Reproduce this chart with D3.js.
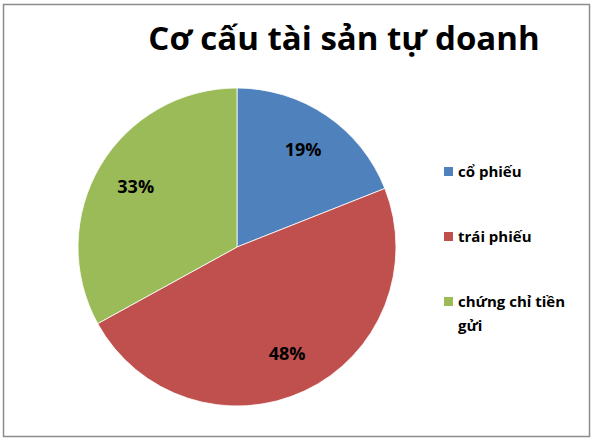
<!DOCTYPE html>
<html>
<head>
<meta charset="utf-8">
<script src="https://cdn.jsdelivr.net/npm/d3@7"></script>
<style>
  body { margin: 0; background: #fff; }
  text { font-family: "Open Sans", "Noto Sans", sans-serif; }
</style>
</head>
<body>
<svg id="chart" width="595" height="440"></svg>
<script>
// data
var categories = ["cổ phiếu", "trái phiếu", "chứng chỉ tiền gửi"];
var shares = [19, 48, 33];
var colours = ["#4F81BD", "#C0504D", "#9BBB59"];

let svg = d3.select("#chart");

// chart frame
svg.append("rect")
  .attr("x", 3.5).attr("y", 4.5)
  .attr("width", 586).attr("height", 432)
  .attr("fill", "#fff")
  .attr("stroke", "#8c8c8c")
  .attr("stroke-width", 1.5);

// title
svg.append("text")
  .attr("x", 344).attr("y", 50)
  .attr("text-anchor", "middle")
  .attr("font-size", 33)
  .attr("font-weight", "bold")
  .text("Cơ cấu tài sản tự doanh");

var cx = 237, cy = 247, r = 159;

var pieGen = d3.pie().sort(null).value((d) => d);
var arcs = pieGen(shares);

var arcGen = d3.arc().innerRadius(0).outerRadius(r);
// excel "best fit" puts labels a bit further out than the middle
var labelArc = d3.arc().innerRadius(r * 0.74).outerRadius(r * 0.74);

var colorScale = d3.scaleOrdinal().domain(categories).range(colours);

let g = svg.append("g").attr("transform", `translate(${cx},${cy})`);

g.selectAll("path")
  .data(arcs)
  .join("path")
  .attr("d", arcGen)
  .attr("fill", (d, i) => colorScale(categories[i]))
  .attr("stroke", "#fff")
  .attr("stroke-width", 0.8);

g.selectAll(".lbl")
  .data(arcs)
  .join("text")
  .attr("class", "lbl")
  .attr("transform", (d) => `translate(${labelArc.centroid(d)})`)
  .attr("text-anchor", "middle")
  .attr("dy", "0.35em")
  .attr("font-size", 18)
  .attr("font-weight", "bold")
  .text((d) => d.data + "%");

// legend
var legendRows = [["cổ phiếu"], ["trái phiếu"], ["chứng chỉ tiền", "gửi"]];
var legendY = d3.scalePoint().domain(categories).range([172, 302]);

let lg = svg.append("g");
categories.forEach((c, i) => {
  let y = legendY(c);
  lg.append("rect")
    .attr("x", 444).attr("y", y - 5)
    .attr("width", 9).attr("height", 9)
    .attr("fill", colorScale(c));
  let t = lg.append("text")
    .attr("x", 458).attr("y", y + 5)
    .attr("font-size", 15)
    .attr("font-weight", "bold");
  legendRows[i].forEach((line, k) => {
    t.append("tspan").attr("x", 458).attr("dy", k ? 24 : 0).text(line);
  });
});
</script>
</body>
</html>
